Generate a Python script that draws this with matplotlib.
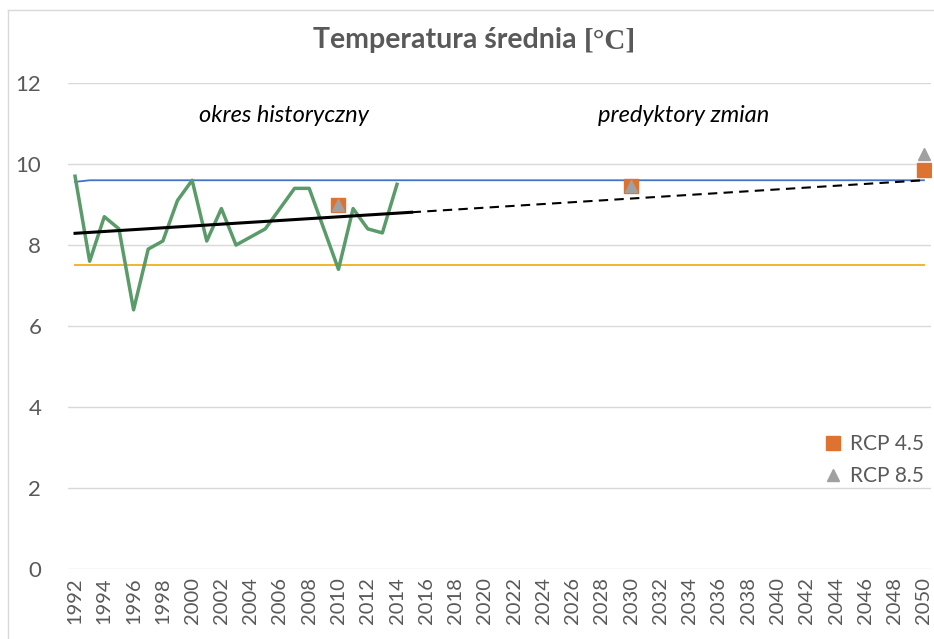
#!/usr/bin/env python3

import matplotlib
matplotlib.use('Agg')
import matplotlib.pyplot as plt
from matplotlib.lines import Line2D

# dane
hist_years = list(range(1992, 2015))
hist_temp = [9.7, 7.6, 8.7, 8.4, 6.4, 7.9, 8.1, 9.1, 9.6, 8.1, 8.9, 8.0,
             8.2, 8.4, 8.9, 9.4, 9.4, 8.4, 7.4, 8.9, 8.4, 8.3, 9.5]
max_years = [1992, 1993, 2050]
max_temp = [9.56, 9.6, 9.6]
min_years = [1992, 2050]
min_temp = [7.5, 7.5]
trend_years = [1992, 2015]
trend_vals = [8.29, 8.81]
trend_proj_years = [2015, 2050]
trend_proj_vals = [8.81, 9.6]
rcp_years = [2010, 2030, 2050]
rcp45 = [9.0, 9.45, 9.85]
rcp85 = [9.0, 9.45, 10.25]
xticks = list(range(1992, 2051, 2))
xtick_labels = [str(y) for y in xticks]
yticks = [0, 2, 4, 6, 8, 10, 12]

FONT = 'Lato'
GRAY = '#595959'
W, H = 934, 639

fig = plt.figure(figsize=(W / 100, H / 100), dpi=100)
ax = fig.add_axes([0.0725, 0.1095, 0.9245, 0.7605])

ax.plot(max_years, max_temp, color='#4472C4', lw=1.3, zorder=3)
ax.plot(min_years, min_temp, color='#F2B52B', lw=1.4, zorder=3)
ax.plot(hist_years, hist_temp, color='#5A9C69', lw=2.5, zorder=4)
ax.plot(trend_years, trend_vals, color='black', lw=2.2, zorder=5)
ax.plot(trend_proj_years, trend_proj_vals, color='black', lw=1.5,
        dashes=(4.5, 3), zorder=5)
ax.plot(rcp_years, rcp45, ls='none', marker='s', ms=9.5, color='#DE7230',
        label='RCP 4.5', zorder=6)
ax.plot(rcp_years, rcp85, ls='none', marker='^', ms=9, color='#A0A0A0',
        label='RCP 8.5', zorder=7)

ax.set_xlim(1991.5, 2050.5)
ax.set_ylim(0, 12)
ax.set_yticks(yticks)
ax.set_yticklabels([str(v) for v in yticks], fontsize=16, family=FONT, color=GRAY)
ax.set_xticks(xticks)
ax.set_xticklabels(xtick_labels, rotation=90, fontsize=14.5, family=FONT, color=GRAY)
ax.tick_params(length=0, pad=6)
ax.tick_params(axis='y', pad=19)
ax.grid(axis='y', color='#D9D9D9', lw=1)
ax.set_axisbelow(True)
for s in ax.spines.values():
    s.set_visible(False)

ax.text(2006.3, 11.2, 'okres historyczny', style='italic', fontsize=17,
        family=FONT, ha='center', va='center', color='black')
ax.text(2033.6, 11.2, 'predyktory zmian', style='italic', fontsize=17,
        family=FONT, ha='center', va='center', color='black')

leg = ax.legend(loc='center left', bbox_to_anchor=(0.865, 0.224), frameon=False,
                handlelength=0.8, handletextpad=0.4, labelspacing=0.6,
                borderpad=0, prop={'family': FONT, 'size': 15})
for t in leg.get_texts():
    t.set_color(GRAY)

# tytul: czesc tekstowa + jednostka krojem szeryfowym
t1 = fig.text(313 / W, 1 - 48 / H, 'Temperatura średnia ', fontsize=20.5,
              fontweight='bold', family=FONT, color=GRAY, ha='left', va='baseline')
fig.canvas.draw()
bb = t1.get_window_extent()
fig.text(bb.x1 / W, 1 - 48 / H, '[°C]', fontsize=21, fontweight='bold',
         family='Liberation Serif', color=GRAY, ha='left', va='baseline')

# ramka wykresu
fig.add_artist(Line2D([8 / W, 8 / W], [0, 1 - 10 / H], color='#D9D9D9', lw=1))
fig.add_artist(Line2D([8 / W, 1], [1 - 10 / H, 1 - 10 / H], color='#D9D9D9', lw=1))

fig.savefig('out.png', dpi=100)
